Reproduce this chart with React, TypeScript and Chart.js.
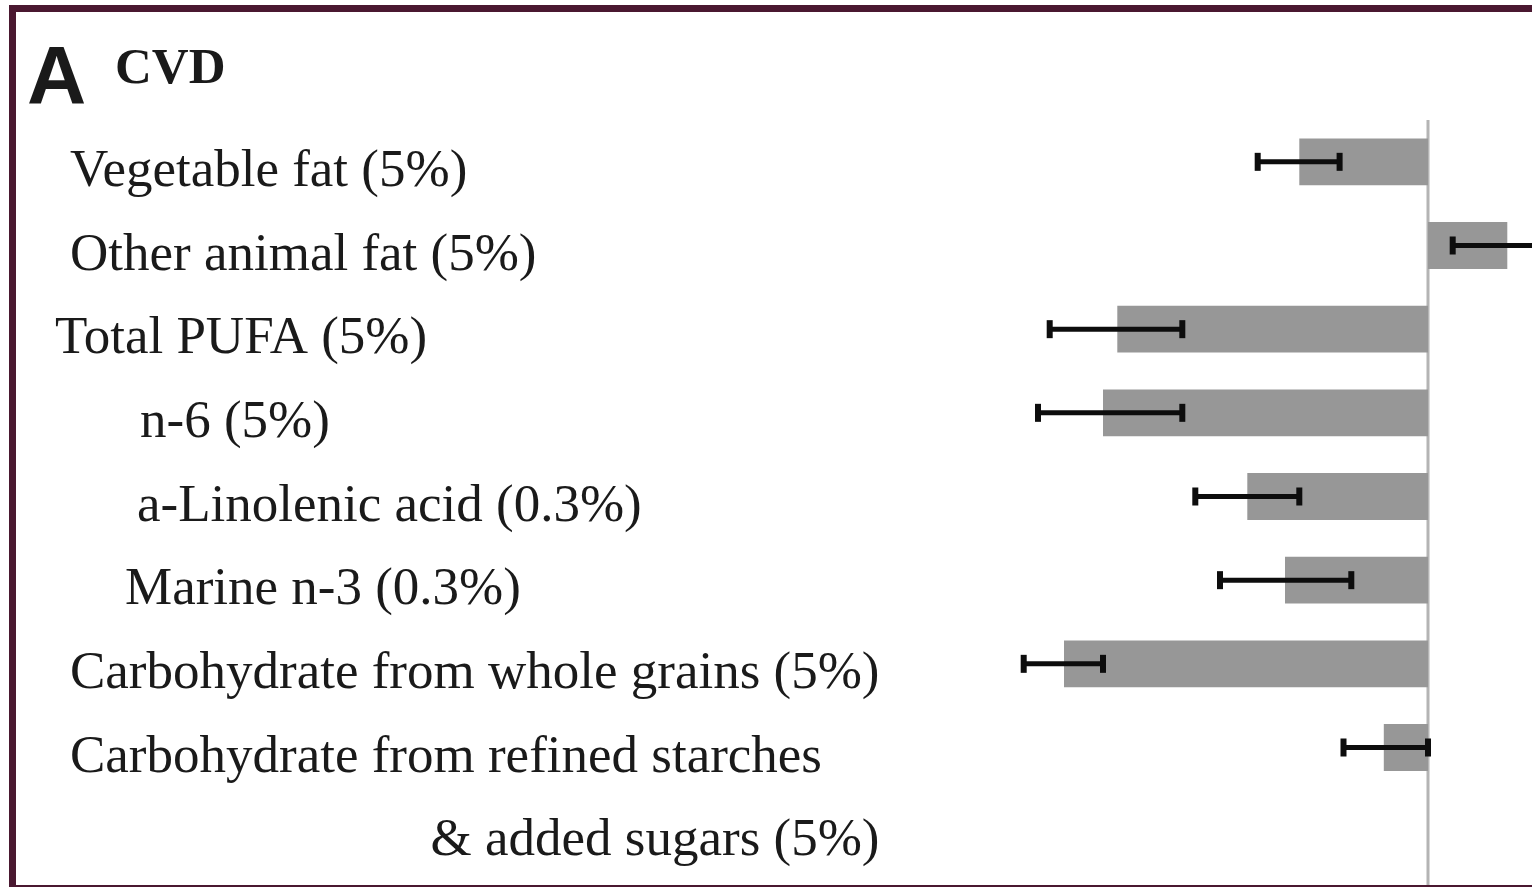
import React, { useEffect, useRef } from "react";
import { Chart, registerables } from "chart.js";

Chart.register(...registerables);

// Categories (the last one wraps onto two lines)
const categories: string[][] = [
  ["Vegetable fat (5%)"],
  ["Other animal fat (5%)"],
  ["Total PUFA (5%)"],
  ["n-6 (5%)"],
  ["a-Linolenic acid (0.3%)"],
  ["Marine n-3 (0.3%)"],
  ["Carbohydrate from whole grains (5%)"],
  ["Carbohydrate from refined starches", "& added sugars (5%)"],
];

// Estimated % change in risk
const estimates: number[] = [-9.9, 6.1, -23.9, -25.0, -13.9, -11.0, -28.0, -3.4];
const lowerCI: number[] = [-13.1, 1.9, -29.1, -30.0, -17.9, -16.0, -31.1, -6.5];
const upperCI: number[] = [-6.8, 10.0, -18.9, -18.9, -9.9, -5.9, -25.0, 0.0];

const panelLetter = "A";
const panelTitle = "CVD";

// label indentation per category (styling)
const labelIndent = [70, 70, 55, 140, 137, 125, 70, 70];

export default function App() {
  const ref = useRef<HTMLCanvasElement | null>(null);

  useEffect(() => {
    if (!ref.current) return;
    const rowLabels = [...categories.map((c) => c.join(" ")), ""];
    const values = [...estimates, null];

    const framePlugin = {
      id: "frame",
      beforeDraw(chart: any) {
        const ctx = chart.ctx;
        ctx.save();
        ctx.fillStyle = "#ffffff";
        ctx.fillRect(0, 0, chart.width, chart.height);
        ctx.fillStyle = "#4a1830";
        ctx.fillRect(9, 5, chart.width - 9, 7);
        ctx.fillRect(9, 5, 7, chart.height - 5);
        ctx.fillRect(9, chart.height - 2, chart.width - 9, 2);
        ctx.restore();
      },
      beforeDatasetsDraw(chart: any) {
        const ctx = chart.ctx;
        const x0 = chart.scales.x.getPixelForValue(0);
        ctx.save();
        ctx.strokeStyle = "#b4b4b4";
        ctx.lineWidth = 3;
        ctx.beginPath();
        ctx.moveTo(x0, chart.chartArea.top);
        ctx.lineTo(x0, chart.height - 2);
        ctx.stroke();
        ctx.restore();
      },
      afterDatasetsDraw(chart: any) {
        const ctx = chart.ctx;
        const xs = chart.scales.x;
        const ys = chart.scales.y;
        ctx.save();
        ctx.strokeStyle = "#0d0d0d";
        ctx.fillStyle = "#0d0d0d";
        ctx.lineWidth = 5;
        for (let i = 0; i < estimates.length; i++) {
          const y = ys.getPixelForValue(i);
          const a = xs.getPixelForValue(lowerCI[i]);
          const b = xs.getPixelForValue(upperCI[i]);
          ctx.beginPath();
          ctx.moveTo(a, y);
          ctx.lineTo(b, y);
          ctx.stroke();
          ctx.fillRect(a - 3, y - 9, 6, 18);
          ctx.fillRect(b - 3, y - 9, 6, 18);
        }
        // labels
        ctx.fillStyle = "#1a1a1a";
        ctx.font = "53px 'Liberation Serif', 'Times New Roman', serif";
        ctx.textBaseline = "alphabetic";
        let rightEdge = 0;
        categories.forEach((c, i) => {
          const y = ys.getPixelForValue(i) + 24;
          ctx.textAlign = "left";
          ctx.fillText(c[0], labelIndent[i], y);
          rightEdge = Math.max(rightEdge, labelIndent[i] + ctx.measureText(c[0]).width);
        });
        categories.forEach((c, i) => {
          if (c.length > 1) {
            const y = ys.getPixelForValue(i + 1) + 24;
            ctx.textAlign = "right";
            ctx.fillText(c[1], rightEdge, y);
          }
        });
        // title
        ctx.textAlign = "left";
        ctx.font = "bold 82px 'Liberation Sans', Arial, sans-serif";
        ctx.fillText(panelLetter, 27, 103);
        ctx.font = "bold 51px 'Liberation Serif', 'Times New Roman', serif";
        ctx.fillText(panelTitle, 115, 83);
        ctx.restore();
      },
    };

    const chart = new Chart(ref.current, {
      type: "bar",
      data: {
        labels: rowLabels,
        datasets: [
          {
            data: values as any,
            backgroundColor: "#979797",
            borderWidth: 0,
            barPercentage: 0.56,
            categoryPercentage: 1,
          },
        ],
      },
      options: {
        indexAxis: "y",
        responsive: false,
        animation: false,
        events: [],
        layout: { padding: { left: 908, right: 0, top: 120, bottom: 14 } },
        plugins: { legend: { display: false }, tooltip: { enabled: false } },
        scales: {
          x: { type: "linear", min: -40, max: 8, display: false },
          y: { display: false },
        },
      },
      plugins: [framePlugin],
    });
    return () => chart.destroy();
  }, []);

  return (
    <div style={{ position: "fixed", left: 0, top: 0, width: 1532, height: 887 }}>
      <canvas ref={ref} width={1532} height={887} style={{ display: "block" }} />
    </div>
  );
}
